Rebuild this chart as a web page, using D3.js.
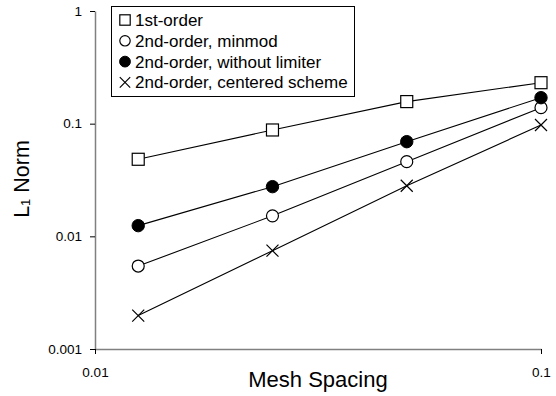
<!DOCTYPE html>
<html>
<head>
<meta charset="utf-8">
<script src="https://cdn.jsdelivr.net/npm/d3@7"></script>
<style>
  body { margin: 0; background: #fff; }
  text { font-family: "Liberation Sans", Arial, sans-serif; fill: #000; }
</style>
</head>
<body>
<div id="chart"></div>
<script>
const meshSpacing = [0.0125, 0.025, 0.05, 0.1];
const firstOrder = [0.0483, 0.0879, 0.157, 0.231];
const minmod = [0.00545, 0.0152, 0.046, 0.1387];
const noLimiter = [0.01244, 0.0276, 0.0692, 0.170];
const centered = [0.00198, 0.00746, 0.0281, 0.0973];

const xTicks = [0.01, 0.1];
const yTicks = [0.001, 0.01, 0.1, 1];
const seriesNames = ['1st-order', '2nd-order, minmod', '2nd-order, without limiter', '2nd-order, centered scheme'];
const seriesShapes = ['square', 'circle', 'dot', 'cross'];

const width = 556, height = 396;
const plotLeft = 95, plotRight = 541, plotTop = 11, plotBottom = 349;

const svg = d3.select('#chart').append('svg')
  .attr('width', width)
  .attr('height', height);

const x = d3.scaleLog().domain([0.01, 0.1]).range([plotLeft, plotRight]);
const y = d3.scaleLog().domain([0.001, 1]).range([plotBottom, plotTop]);

// axes
const yAxis = svg.append('g')
  .attr('transform', `translate(${plotLeft},0)`)
  .call(d3.axisLeft(y).tickValues(yTicks).tickFormat(d3.format('')).tickSize(5).tickSizeOuter(0));
yAxis.select('.domain').attr('stroke', '#808080').attr('stroke-width', 1.5);
yAxis.selectAll('.tick line').attr('stroke', '#000');
yAxis.selectAll('.tick text').attr('font-size', 13.5).attr('x', -13)
  .attr('font-family', '"Liberation Sans", Arial, sans-serif');

const xAxis = svg.append('g')
  .attr('transform', `translate(0,${plotBottom})`)
  .call(d3.axisBottom(x).tickValues(xTicks).tickFormat(d3.format('')).tickSize(5).tickSizeOuter(0));
xAxis.select('.domain').attr('stroke', '#808080').attr('stroke-width', 1.5);
xAxis.selectAll('.tick line').attr('stroke', '#000');
xAxis.selectAll('.tick text').attr('font-size', 13.5).attr('y', 28).attr('dy', 0)
  .attr('font-family', '"Liberation Sans", Arial, sans-serif');

// axis titles
svg.append('text')
  .attr('x', (plotLeft + plotRight) / 2)
  .attr('y', 387)
  .attr('text-anchor', 'middle')
  .attr('font-size', 22)
  .text('Mesh Spacing');

const yTitle = svg.append('text')
  .attr('transform', 'translate(29,179) rotate(-90)')
  .attr('text-anchor', 'middle')
  .attr('font-size', 21.5);
yTitle.append('tspan').text('L');
yTitle.append('tspan').attr('font-size', 13).attr('dy', 1).text('1');
yTitle.append('tspan').attr('dy', -1).text(' Norm');

// markers
function drawMarker(g, shape, cx, cy, s) {
  if (shape === 'square') {
    g.append('rect').attr('x', cx - s).attr('y', cy - s).attr('width', 2 * s).attr('height', 2 * s)
      .attr('fill', '#fff').attr('stroke', '#000').attr('stroke-width', 1.2);
  } else if (shape === 'circle') {
    g.append('circle').attr('cx', cx).attr('cy', cy).attr('r', s)
      .attr('fill', '#fff').attr('stroke', '#000').attr('stroke-width', 1.2);
  } else if (shape === 'dot') {
    g.append('circle').attr('cx', cx).attr('cy', cy).attr('r', s + 0.2)
      .attr('fill', '#000').attr('stroke', '#000');
  } else {
    g.append('path').attr('d', `M${cx - s},${cy - s}L${cx + s},${cy + s}M${cx - s},${cy + s}L${cx + s},${cy - s}`)
      .attr('stroke', '#000').attr('stroke-width', 1.2).attr('fill', 'none');
  }
}

const allSeries = [firstOrder, minmod, noLimiter, centered];
const line = d3.line().x(d => x(d[0])).y(d => y(d[1]));

allSeries.forEach((vals, i) => {
  const pts = meshSpacing.map((m, j) => [m, vals[j]]);
  svg.append('path').datum(pts)
    .attr('d', line)
    .attr('fill', 'none')
    .attr('stroke', '#000')
    .attr('stroke-width', 1.1);
  const g = svg.append('g');
  pts.forEach(p => drawMarker(g, seriesShapes[i], x(p[0]), y(p[1]), 6));
});

// legend
const legend = svg.append('g');
legend.append('rect')
  .attr('x', 111.5).attr('y', 6.5).attr('width', 243).attr('height', 90)
  .attr('fill', '#fff').attr('stroke', '#000').attr('stroke-width', 1);
seriesNames.forEach((name, i) => {
  const ly = 20 + i * 20.8;
  drawMarker(legend, seriesShapes[i], 125, ly, 5.2);
  legend.append('text')
    .attr('x', 135).attr('y', ly + 6)
    .attr('font-size', 17)
    .text(name);
});
</script>
</body>
</html>
